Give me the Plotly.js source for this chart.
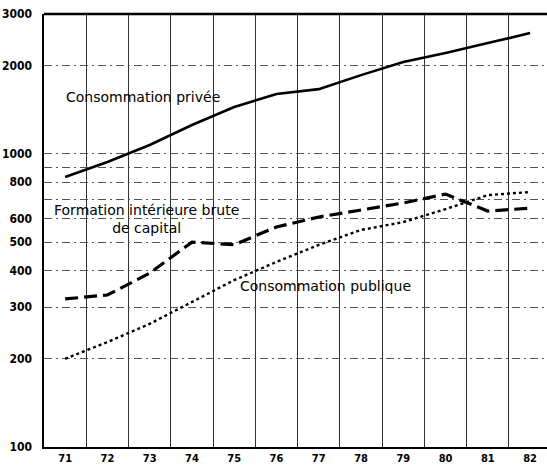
<!DOCTYPE html>
<html>
<head>
<meta charset="utf-8">
<script src="https://cdn.plot.ly/plotly-3.0.1.min.js"></script>
<style>html,body{margin:0;padding:0;background:#fff;}#chart{width:547px;height:465px;}</style>
</head>
<body>
<div id="chart"></div>
<script>
// Years (19xx)
const years = [71, 72, 73, 74, 75, 76, 77, 78, 79, 80, 81, 82];
const yearLabels = ['71','72','73','74','75','76','77','78','79','80','81','82'];
// Series values
const consommationPrivee = [834, 938, 1072, 1254, 1444, 1600, 1663, 1856, 2056, 2207, 2387, 2582];
const formationCapital  = [320, 330, 392, 500, 490, 563, 609, 645, 680, 729, 638, 653];
const consommationPublique = [200, 228, 263, 312, 371, 428, 489, 550, 585, 648, 723, 741];
// Y tick labels
const yTickVals = [100, 200, 300, 400, 500, 600, 700, 800, 900, 1000, 2000, 3000];
const yTickText = ['100','200','300','400','500','600','','800','','1000','2000','3000'];

const traces = [
  {x: years, y: consommationPrivee, mode: 'lines', line: {color: '#000', width: 2.6}, name: 'Consommation privée'},
  {x: years, y: formationCapital, mode: 'lines', line: {color: '#000', width: 3.2, dash: '13px,6px'}, name: 'Formation intérieure brute de capital'},
  {x: years, y: consommationPublique, mode: 'lines', line: {color: '#000', width: 2.4, dash: 'dot'}, name: 'Consommation publique'}
];

const annFont = {family: 'DejaVu Sans', size: 14, color: '#000'};
const yTickFont = {family: 'DejaVu Sans Condensed', size: 12, color: '#000', weight: 'bold'};
const xTickFont = {family: 'DejaVu Sans Condensed', size: 11, color: '#000', weight: 'bold'};
const layout = {
  width: 547, height: 465,
  margin: {l: 44, r: 0, t: 14, b: 18},
  paper_bgcolor: '#fff', plot_bgcolor: '#fff',
  showlegend: false,
  xaxis: {
    range: [70.5, 82.4],
    tickvals: years, ticktext: yearLabels,
    showgrid: false, zeroline: false,
    showline: true, linecolor: '#000', linewidth: 2, mirror: false,
    ticks: '', ticklabelstandoff: 0, tickfont: xTickFont,
    minor: {tick0: 71.5, dtick: 1, showgrid: true, gridcolor: '#333', gridwidth: 1, ticks: ''}
  },
  yaxis: {
    type: 'log',
    range: [2, Math.log10(3000)],
    tickvals: yTickVals, ticktext: yTickText,
    showgrid: true, gridcolor: '#555', gridwidth: 1, griddash: '8px,4px,2px,4px',
    zeroline: false,
    showline: true, linecolor: '#000', linewidth: 2.5,
    ticks: '', ticklabelstandoff: 7,
    tickfont: yTickFont
  },
  shapes: [
    {type: 'line', xref: 'paper', yref: 'paper', x0: 0, x1: 1, y0: 1, y1: 1, line: {color: '#000', width: 2.5}}
  ],
  annotations: [
    {x: 70.98, y: Math.log10(1560), xref: 'x', yref: 'y', text: 'Consommation privée', showarrow: false, xanchor: 'left', yanchor: 'middle', font: annFont},
    {x: 70.7, y: Math.log10(600), xref: 'x', yref: 'y', text: 'Formation intérieure brute<br>de capital', showarrow: false, xanchor: 'left', yanchor: 'middle', align: 'center', font: annFont},
    {x: 75.1, y: Math.log10(355), xref: 'x', yref: 'y', text: 'Consommation publique', showarrow: false, xanchor: 'left', yanchor: 'middle', font: annFont}
  ]
};

Plotly.newPlot('chart', traces, layout, {displayModeBar: false, staticPlot: true});
</script>
</body>
</html>
